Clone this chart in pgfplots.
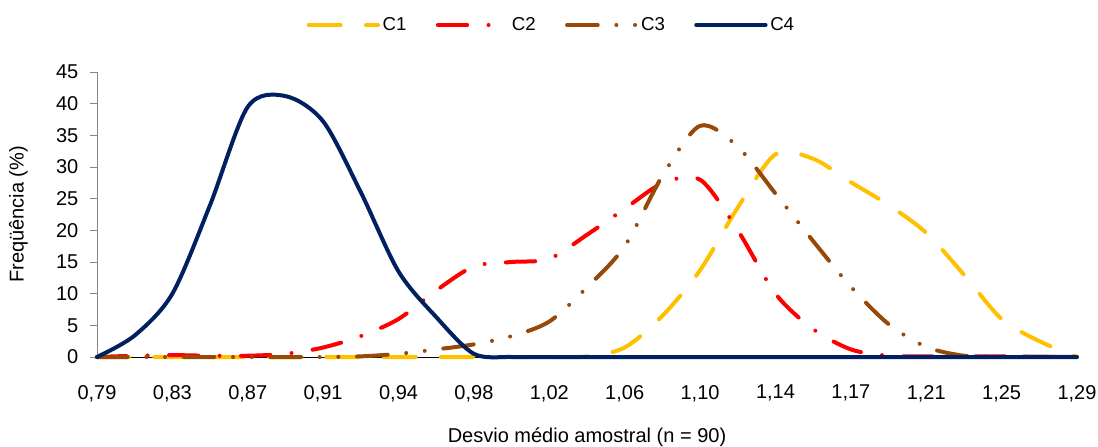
\documentclass[border=0pt]{standalone}
\usepackage{fontspec}
\setmainfont{Liberation Sans}
\usepackage{pgfplots}
\usepackage{pgfplotstable}
\pgfplotsset{compat=1.18}
\definecolor{cA}{HTML}{FFC000}
\definecolor{cB}{HTML}{FF0000}
\definecolor{cC}{HTML}{984807}
\definecolor{cD}{HTML}{002060}
\definecolor{axgray}{HTML}{868686}

\pgfplotstableread{
x c1 c2 c3 c4
0.0 0 0 0 0
0.5 0 0.2 0 3.4
1.0 0 0.3 0 10
1.5 0 0.2 0 24
2.0 0 0.2 0 39.5
2.5 0 0.5 0 41.2
3.0 0 1.5 0 37.2
3.5 0 3.3 0.1 26
4.0 0 6.0 0.5 13.5
4.5 0 10.5 1.2 6.3
5.0 0 14.3 2.0 0.5
5.5 0 15.0 3.3 0
6.0 0 15.5 5.6 0
6.5 0.1 19.3 11.0 0
7.0 1.5 23.4 17.5 0
7.5 6.5 27.4 28.6 0
8.0 13.7 28.0 36.5 0
8.5 23.6 20.0 33.2 0
9.0 32.0 10.0 25.8 0
9.5 31.3 4.4 18.3 0
10.0 27.6 1.2 11.1 0
10.5 24.0 0.2 5.2 0
11.0 19.6 0.1 1.6 0
11.5 13.0 0.1 0.2 0
12.0 6.0 0.1 0.1 0
12.5 2.5 0.05 0.05 0
13.0 0 0 0 0
}\datatable

\begin{document}
\begin{tikzpicture}
\begin{axis}[
  name=ax,
  scale only axis, width=735pt, height=213.75pt,
  xmin=0, xmax=13, ymin=0, ymax=45,
  clip=false,
  axis lines=left,
  axis line style={-},
  x axis line style={black, line width=0.6pt},
  y axis line style={axgray, line width=0.6pt},
  xtick={0,...,13},
  xticklabels={{0,79},{0,83},{0,87},{0,91},{0,94},{0,98},{1,02},{1,06},{1,10},{1,14},{1,17},{1,21},{1,25},{1,29}},
  ytick={0,5,...,45},
  major x tick style={draw=none},
  ytick style={axgray, line width=0.6pt},
  tick align=outside,
  major tick length=5.5pt,
  /pgf/number format/assume math mode=true,
  tick label style={font=\fontsize{15}{17}\selectfont},
  xticklabel style={anchor=north, yshift=-12pt},
  yticklabel style={anchor=east, xshift=-5pt},
  every axis x label/.style={at={(axis description cs:0.5,0)}, anchor=center, yshift=-60pt},
  every axis y label/.style={at={(axis description cs:0,0.5)}, anchor=center, xshift=-59pt, rotate=90},
  label style={font=\fontsize{15}{17}\selectfont},
  xlabel={Desvio médio amostral (n = 90)},
  ylabel={Freqüência (\%)},
  legend columns=4,
  legend style={at={(0.464,1.165)}, anchor=center, draw=none, fill=none,
    font=\fontsize{14}{16}\selectfont,
    /tikz/every even column/.append style={column sep=20pt},
    /tikz/every odd column/.append style={column sep=0pt}},
  legend image code/.code={\draw[#1] (0pt,0pt) -- (52pt,0pt);},
]
\addplot[cA, line width=3pt, line cap=round, dash pattern=on 24pt off 19pt, smooth] table[x=x, y=c1] {\datatable};
\addlegendentry{C1}
\addplot[cB, line width=3pt, line cap=round, dash pattern=on 22pt off 16pt on 0pt off 16pt, smooth] table[x=x, y=c2] {\datatable};
\addlegendentry{C2}
\addplot[cC, line width=3pt, line cap=round, dash pattern=on 23pt off 14pt on 0pt off 14pt on 0pt off 14pt, smooth] table[x=x, y=c3] {\datatable};
\addlegendentry{C3}
\addplot[cD, line width=3pt, line cap=round, smooth] table[x=x, y=c4] {\datatable};
\addlegendentry{C4}
\end{axis}
\pgfresetboundingbox
\path[use as bounding box] ([shift={(-72.75pt,-66.75pt)}]ax.south west) rectangle ([shift={(15.75pt,54pt)}]ax.north east);
\end{tikzpicture}
\end{document}
